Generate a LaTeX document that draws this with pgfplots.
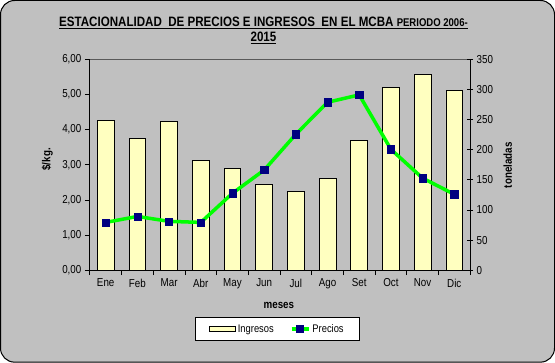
\documentclass[border=0pt]{standalone}
\usepackage{pgfplots}
\pgfplotsset{compat=1.18}
\usepackage{fontspec}
\setmainfont[FakeStretch=0.85]{Liberation Sans}
\definecolor{bg}{HTML}{C0C0C0}
\definecolor{baryellow}{HTML}{FFFFC0}
\definecolor{linegreen}{HTML}{00FF00}
\definecolor{marknavy}{HTML}{000080}
\begin{document}
\begin{tikzpicture}[x=1pt,y=1pt]
\draw[black, line width=1pt, fill=bg, rounded corners=14pt] (0.5,1.5) rectangle (553.5,362.5);
\draw[gray!70!black, line width=0.6pt] (89.7,303.7) -- (469.3,303.7);
\node[font=\fontsize{13.6}{15}\selectfont\bfseries, align=center] at (263,333)
  {\underline{ESTACIONALIDAD\ \ DE PRECIOS E INGRESOS\ \ EN EL MCBA {\fontsize{11.2}{13}\selectfont PERIODO 2006-}}\\[0pt]\underline{2015}};
\begin{axis}[at={(89.7pt,93.3pt)}, anchor=south west, scale only axis,
  width=379.6pt, height=210.4pt,
  xmin=-0.5, xmax=11.5, ymin=0, ymax=350,
  hide x axis, axis y line*=right, axis line style={-, black, line width=0.8pt},
  ytick={0,50,...,350}, tick align=center, major tick length=6pt,
  tick style={black, line width=0.8pt},
  font=\fontsize{11.5}{13}\selectfont,
  /pgf/number format/assume math mode=true,
  ylabel={\bfseries toneladas},
  ylabel style={at={(rel axis cs:1.099,0.498)}, anchor=center},
]
\addplot[ybar, bar width=16.7pt, fill=baryellow, draw=black, line width=0.8pt]
  coordinates {(0,249) (1,219) (2,247) (3,182) (4,169) (5,142) (6,130) (7,152) (8,215) (9,303) (10,325) (11,298)};
\end{axis}
\begin{axis}[at={(89.7pt,93.3pt)}, anchor=south west, scale only axis,
  width=379.6pt, height=210.4pt,
  xmin=-0.5, xmax=11.5, ymin=0, ymax=6,
  axis x line*=bottom, axis y line*=left, axis line style={-, black, line width=0.8pt},
  xtick={0,...,11}, xticklabels={Ene,Feb,Mar,Abr,May,Jun,Jul,Ago,Set,Oct,Nov,Dic},
  minor xtick={-0.5,0.5,...,11.5},
  ytick={0,1,...,6},
  tick align=outside, major tick length=5pt, minor tick length=5pt,
  tick style={black, line width=0.8pt},
  major x tick style={draw=none},
  font=\fontsize{11.5}{13}\selectfont,
  /pgf/number format/assume math mode=true,
  yticklabel style={/pgf/number format/.cd, fixed, fixed zerofill, precision=2, use comma},
  ylabel={\bfseries \$/kg.},
  ylabel style={at={(rel axis cs:-0.112,0.526)}, anchor=center},
  xlabel={\bfseries meses},
  xlabel style={at={(rel axis cs:0.497,-0.168)}, anchor=center},
  legend columns=2,
  legend style={at={(rel axis cs:0.493,-0.279)}, anchor=center, draw=black, line width=0.8pt,
    fill=white, font=\fontsize{11}{13}\selectfont, inner xsep=14pt, inner ysep=5pt,
    /tikz/every even column/.append style={column sep=14pt}},
]
\addlegendimage{legend image code/.code={\draw[fill=baryellow,draw=black,line width=0.8pt] (0pt,-2.5pt) rectangle (26pt,2.5pt);}}
\addlegendentry{Ingresos}
\addplot[linegreen, line width=3.5pt, mark=square*, mark size=3.6pt,
  mark options={fill=marknavy, draw=marknavy, line width=0.5pt}]
  coordinates {(0,1.36) (1,1.53) (2,1.39) (3,1.36) (4,2.19) (5,2.85) (6,3.87) (7,4.78) (8,4.99) (9,3.44) (10,2.62) (11,2.16)};
\addlegendentry{Precios}
\end{axis}
\end{tikzpicture}
\end{document}
